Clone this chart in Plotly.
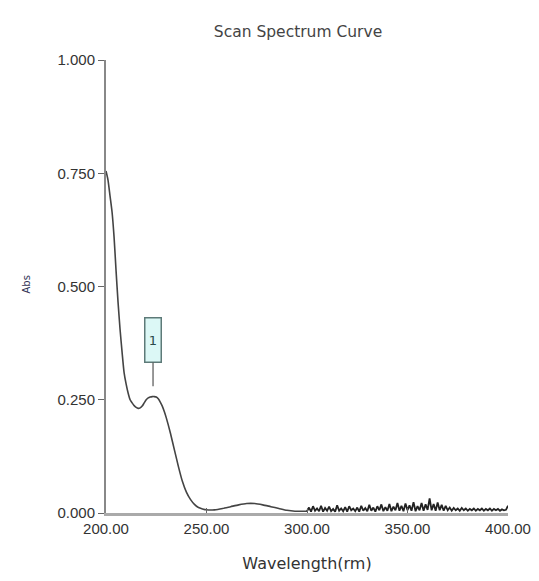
import plotly.graph_objects as go

# Smooth part of the spectrum (wavelength nm, absorbance)
wl_main = [200, 201, 202, 203, 204, 205, 206, 207, 208, 209, 210, 211, 212, 213, 214,
           215, 216, 217, 218, 219, 220, 221, 222, 223, 224, 225, 226, 227, 228, 229,
           230, 232, 234, 236, 238, 240, 242, 244, 246, 248, 250, 254, 258, 262, 266,
           270, 274, 278, 282, 286, 290, 294, 298, 300]
abs_main = [0.755, 0.735, 0.70, 0.665, 0.61, 0.535, 0.465, 0.405, 0.355, 0.31, 0.285,
            0.265, 0.25, 0.243, 0.237, 0.233, 0.231, 0.232, 0.236, 0.243, 0.25, 0.254,
            0.256, 0.257, 0.257, 0.256, 0.252, 0.245, 0.236, 0.224, 0.21, 0.177, 0.14,
            0.103, 0.07, 0.046, 0.03, 0.019, 0.012, 0.009, 0.007, 0.007, 0.01, 0.014,
            0.018, 0.021, 0.021, 0.018, 0.014, 0.01, 0.006, 0.004, 0.004, 0.004]

# Noisy tail 300..400 nm, 1 nm steps
wl_noise = list(range(300, 401))
abs_noise = [0.004, 0.012, 0.003, 0.015, 0.005, 0.010, 0.004, 0.016, 0.003, 0.011,
             0.005, 0.014, 0.004, 0.009, 0.003, 0.017, 0.005, 0.010, 0.004, 0.013,
             0.003, 0.015, 0.006, 0.010, 0.004, 0.012, 0.003, 0.016, 0.005, 0.011,
             0.004, 0.018, 0.005, 0.012, 0.003, 0.015, 0.006, 0.019, 0.004, 0.013,
             0.005, 0.020, 0.004, 0.014, 0.006, 0.022, 0.005, 0.016, 0.004, 0.021,
             0.006, 0.017, 0.005, 0.024, 0.004, 0.015, 0.006, 0.022, 0.005, 0.019,
             0.007, 0.032, 0.006, 0.020, 0.005, 0.023, 0.006, 0.018, 0.005, 0.016,
             0.006, 0.012, 0.005, 0.011, 0.006, 0.010, 0.005, 0.011, 0.006, 0.010,
             0.005, 0.009, 0.006, 0.010, 0.005, 0.009, 0.006, 0.010, 0.005, 0.009,
             0.006, 0.010, 0.005, 0.009, 0.006, 0.009, 0.005, 0.008, 0.006, 0.007,
             0.016]

x_ticks = [200, 250, 300, 350, 400]
x_tick_labels = ["200.00", "250.00", "300.00", "350.00", "400.00"]
y_ticks = [0, 0.25, 0.5, 0.75, 1.0]
y_tick_labels = ["0.000", "0.250", "0.500", "0.750", "1.000"]

peak_label = "1"
peak_x = 223.4
peak_y = 0.28

FONT = "DejaVu Sans"
TICKFONT = "Liberation Sans"

# The page body has an 8px margin; size the figure so it fits the window
# without overflow, and place everything in figure coordinates (window - 8).
OFF = 8
W, H = 539 - 2 * OFF, 581 - 2 * OFF
PX0, PX1, PY0, PY1 = 106 - OFF, 508 - OFF, 60 - OFF, 513 - OFF
L, R, T, B = PX0, W - PX1, PY0, H - PY1
PW, PH = PX1 - PX0, PY1 - PY0

fig = go.Figure()
fig.add_trace(go.Scatter(x=wl_main, y=abs_main, mode="lines",
                         line=dict(color="#444444", width=1.6, shape="spline", smoothing=0.6),
                         showlegend=False, hoverinfo="skip"))
fig.add_trace(go.Scatter(x=wl_noise, y=abs_noise, mode="lines",
                         line=dict(color="#222222", width=1.8),
                         showlegend=False, hoverinfo="skip"))

fig.add_annotation(x=peak_x, y=peak_y, xref="x", yref="y", text=peak_label,
                   showarrow=True, arrowhead=0, arrowwidth=1.2, arrowcolor="#555555",
                   ax=0, ay=-46, bgcolor="#dcf8f6", bordercolor="#5d7a78",
                   borderwidth=1.5, borderpad=1, width=13, height=41,
                   font=dict(family=FONT, size=13, color="#2a4a4a"))

fig.update_layout(
    width=W, height=H,
    margin=dict(l=L, r=R, t=T, b=B, autoexpand=False),
    paper_bgcolor="white", plot_bgcolor="white",
    title=dict(text="Scan Spectrum Curve", x=(298 - OFF) / W, xanchor="center",
               y=1 - (32 - OFF) / H, yanchor="middle",
               font=dict(family=FONT, size=15.5, color="#444444")),
    xaxis=dict(range=[200, 400], tickvals=x_ticks, ticktext=x_tick_labels,
               showgrid=False, zeroline=False, showline=True, linecolor="#aaaaaa",
               linewidth=3, ticks="inside", ticklen=5, tickcolor="#666666",
               automargin=False, ticklabeloverflow="allow",
               tickfont=dict(family=TICKFONT, size=15, color="#333333"),
               title=dict(text="Wavelength(rm)", standoff=27,
                          font=dict(family=FONT, size=16, color="#333333"))),
    yaxis=dict(range=[0, 1.0], tickvals=y_ticks, ticktext=y_tick_labels,
               showgrid=False, zeroline=False, showline=True, linecolor="#888888",
               linewidth=2, ticks="outside", ticklen=6, tickcolor="#666666",
               automargin=False,
               tickfont=dict(family=TICKFONT, size=15, color="#333333")),
)

fig.add_annotation(text="Abs", xref="paper", yref="paper",
                   x=(18 - OFF - L) / PW, y=(PY1 - (285 - OFF)) / PH,
                   showarrow=False, textangle=-90,
                   font=dict(family=FONT, size=10, color="#333355"))

fig.write_html("out.html")
